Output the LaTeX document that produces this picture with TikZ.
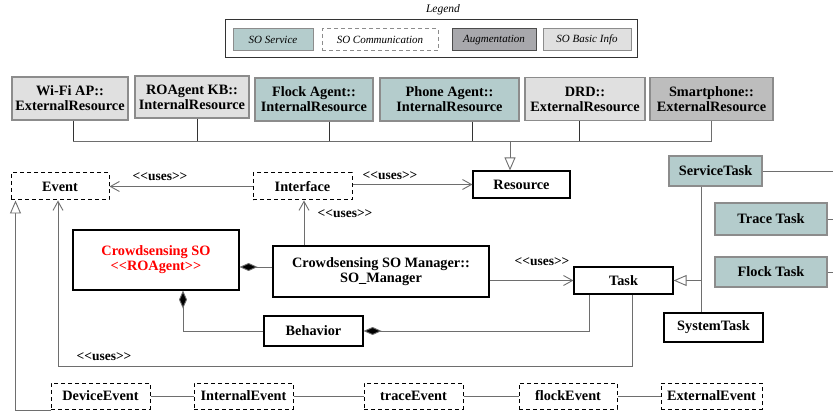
\documentclass[tikz,border=0pt]{standalone}
\usepackage{fontspec}
\setmainfont{Liberation Serif}
\usepackage{xcolor}
\usepackage{tikz}
\usetikzlibrary{calc,positioning,arrows.meta}
\definecolor{soteal}{HTML}{B4CCCC}
\definecolor{augfill}{HTML}{A8A8AC}
\definecolor{smartfill}{HTML}{BDBDBD}
\definecolor{basicfill}{HTML}{E0E0E0}
\definecolor{boxline}{HTML}{8C8C8C}
\definecolor{wiregray}{HTML}{6E6E6E}
\definecolor{csored}{HTML}{FF0000}
\newcommand{\umlstereo}[1]{<\kern0pt<#1>\kern0pt>}

\begin{document}
\begin{tikzpicture}[
  x=1pt, y=-1pt,
  umlbox/.style={
    rectangle, draw=black, line width=1.2pt, fill=white,
    font=\bfseries\fontsize{14.3}{15}\selectfont, align=center, inner sep=2pt,
  },
  commbox/.style={umlbox, dash pattern=on 4pt off 3pt, line width=1pt},
  servicebox/.style={umlbox, fill=soteal, draw=boxline},
  infobox/.style={umlbox, fill=basicfill, draw=boxline},
  augbox/.style={umlbox, fill=smartfill, draw=boxline},
  legitem/.style={
    rectangle, line width=1pt, minimum height=22pt, inner sep=2pt,
    font=\itshape\fontsize{11}{12}\selectfont,
  },
  wire/.style={draw=wiregray, line width=0.9pt},
  uses/.style={wire, -{Straight Barb[length=9pt,width=10pt]}},
  gen/.style={wire, -{Triangle[open,length=13pt,width=11pt,fill=white]}},
  comp/.style={wire, -{Diamond[length=18pt,width=8pt,fill=black]}},
  useslabel/.style={font=\bfseries\fontsize{13.5}{14}\selectfont, inner sep=0pt},
]
\useasboundingbox (0,0) rectangle (833,414);

% legend
\node[font=\itshape\fontsize{11.5}{12}\selectfont, inner sep=0pt] (legtitle) at (443,10) {Legend};
\node[draw=black!80, line width=1pt, minimum width=412pt, minimum height=38pt] (legframe) at (431.5,38.5) {};
\node[legitem, fill=soteal, draw=boxline, minimum width=80pt] (lg1) at (273,40) {SO Service};
\node[legitem, draw=boxline, dash pattern=on 4pt off 3pt, minimum width=116pt] (lg2) at (380,40) {SO Communication};
\node[legitem, fill=augfill, draw=black!70, minimum width=84pt] (lg3) at (494,40) {Augmentation};
\node[legitem, fill=basicfill, draw=boxline, minimum width=88pt] (lg4) at (587,40) {SO Basic Info};

% resources
\node[infobox, minimum width=116pt, minimum height=43pt] (wifi) at (70,98.5) {Wi-Fi AP::\\ExternalResource};
\node[infobox, minimum width=114pt, minimum height=42pt] (kb) at (192,97) {ROAgent KB::\\InternalResource};
\node[servicebox, minimum width=118pt, minimum height=43pt] (flockag) at (314,99.5) {Flock Agent::\\InternalResource};
\node[servicebox, minimum width=139pt, minimum height=43pt] (phone) at (449.5,99.5) {Phone Agent::\\InternalResource};
\node[infobox, minimum width=120pt, minimum height=43pt] (drd) at (585,99) {DRD::\\ExternalResource};
\node[augbox, minimum width=123pt, minimum height=43pt] (smart) at (711.5,99) {Smartphone::\\ExternalResource};

\node[commbox, minimum width=98pt, minimum height=27pt] (event) at (60,186.5) {Event};
\node[commbox, minimum width=99pt, minimum height=27pt] (iface) at (302.5,186.5) {Interface};
\node[umlbox, minimum width=97pt, minimum height=27pt] (res) at (521.5,184.5) {Resource};

% tasks
\node[servicebox, minimum width=93pt, minimum height=30pt] (svc) at (715.5,171) {ServiceTask};
\node[servicebox, minimum width=112pt, minimum height=32pt] (trace) at (771,219) {Trace Task};
\node[servicebox, minimum width=112pt, minimum height=30pt] (flocktask) at (771,272) {Flock Task};
\node[umlbox, minimum width=99pt, minimum height=29pt] (sys) at (713.5,327.5) {SystemTask};
\node[umlbox, minimum width=99pt, minimum height=27pt] (task) at (623.5,280.5) {Task};

% crowdsensing SO
\node[umlbox, text=csored, minimum width=166pt, minimum height=60pt] (cso) at (156,260) {Crowdsensing SO\\\umlstereo{ROAgent}};
\node[umlbox, minimum width=216pt, minimum height=51pt] (mgr) at (381,271.5) {Crowdsensing SO Manager::\\SO\_Manager};
\node[umlbox, minimum width=99pt, minimum height=30pt] (beh) at (313.5,331) {Behavior};

% events
\node[commbox, minimum width=99pt, minimum height=26pt] (devev) at (100.5,396) {DeviceEvent};
\node[commbox, minimum width=99pt, minimum height=26pt] (intev) at (243.5,396) {InternalEvent};
\node[commbox, minimum width=99pt, minimum height=26pt] (trev) at (413.5,396) {traceEvent};
\node[commbox, minimum width=98pt, minimum height=26pt] (flev) at (568,396) {flockEvent};
\node[commbox, minimum width=101pt, minimum height=26pt] (extev) at (711.5,396) {ExternalEvent};

% resource bus
\coordinate (busl) at (73,141);
\coordinate (busr) at (712,141);
\coordinate (resjoin) at (510,141);
\draw[wire] (busl) -- (busr);
\draw[wire, draw=black!80] ([xshift=3]wifi.south) -- ([xshift=3]wifi.south |- busl);
\draw[wire, draw=black!80] ([xshift=5]kb.south) -- ([xshift=5]kb.south |- busl);
\draw[wire, draw=black!80] ([xshift=15]flockag.south) -- ([xshift=15]flockag.south |- busl);
\draw[wire, draw=black!80] ([xshift=22.5]phone.south) -- ([xshift=22.5]phone.south |- busl);
\draw[wire, draw=black!80] ([xshift=-6]drd.south) -- ([xshift=-6]drd.south |- busl);
\draw[wire] (smart.south) -- (smart.south |- busr);
\draw[gen] (resjoin) -- (resjoin |- res.north);

% uses
\draw[uses] (iface) -- (event);
\node[useslabel] (u1) at (160,177) {\umlstereo{uses}};
\draw[uses] (res.west -| iface.east) -- (res.west);
\node[useslabel] (u2) at (390,176) {\umlstereo{uses}};
\draw[uses] ([xshift=1.5]iface.south |- mgr.north) -- ([xshift=1.5]iface.south);
\node[useslabel] (u3) at (345,214) {\umlstereo{uses}};
\draw[uses] (task.west -| mgr.east) -- (task.west);
\node[useslabel] (u4) at (542,262) {\umlstereo{uses}};
\coordinate (usecorner) at (58,366);
\draw[uses] ([xshift=8.5]task.south) |- (usecorner) -- (usecorner |- event.south);
\node[useslabel] (u5) at (104,357) {\umlstereo{uses}};

% composition
\draw[comp] ([yshift=4.5]mgr.west) -- ([yshift=4.5]mgr.west -| cso.east);
\draw[comp] (beh.west) -| ([xshift=27]cso.south);
\draw[comp] ([xshift=-34.5]task.south) |- (beh.east);

% generalization
\coordinate (taskjoin) at (701,280.5);
\draw[wire] ([xshift=-14.5]svc.south) -- ([xshift=-12.5]sys.north);
\draw[gen] (taskjoin) -- (task.east);
\draw[gen] ([yshift=-14]devev.west) -| ([xshift=5]event.south west);

% off to the right
\coordinate (svcout) at (833,171);
\coordinate (traceout) at (833,219);
\coordinate (flockout) at (833,272);
\draw[wire] (svc.east) -- (svcout);
\draw[wire] (trace.east) -- (traceout);
\draw[wire] (flocktask.east) -- (flockout);

% event chain
\draw[wire] (devev) -- (intev);
\draw[wire] (intev) -- (trev);
\draw[wire] (trev) -- (flev);
\draw[wire] (flev) -- (extev);

\end{tikzpicture}
\end{document}
